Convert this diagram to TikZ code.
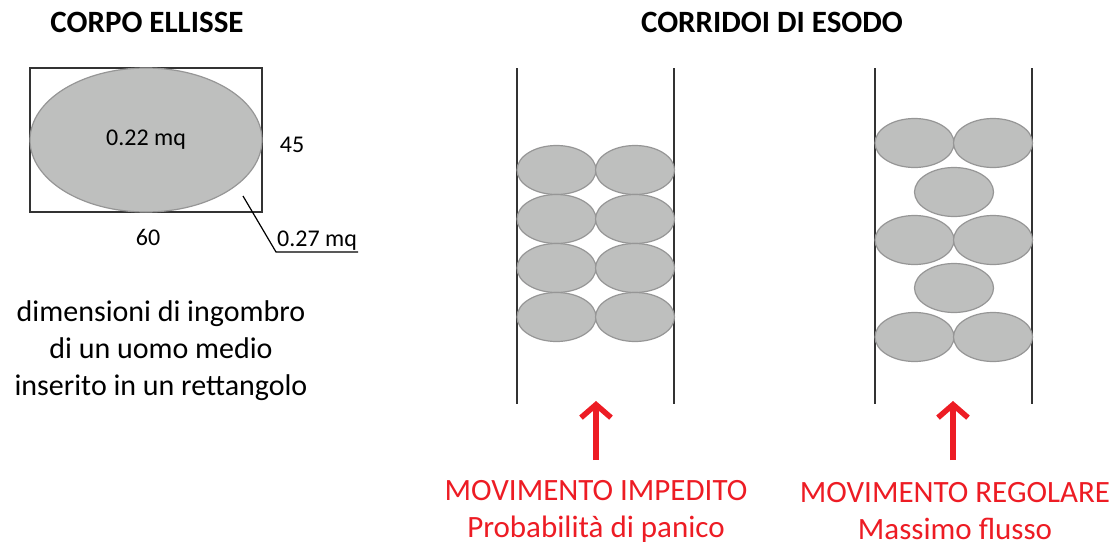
\documentclass[tikz,border=0pt]{standalone}
\usepackage{fontspec}
\setmainfont{Carlito}
\usetikzlibrary{shapes.geometric,arrows.meta}
\definecolor{grigio}{RGB}{190,191,190}
\definecolor{bordo}{RGB}{150,150,150}
\definecolor{rosso}{RGB}{237,28,36}
\tikzset{
	persona/.style={ellipse, draw=bordo, fill=grigio, line width=1.2pt, minimum width=79pt, minimum height=49pt, inner sep=0pt},
	parete/.style={line width=1.5pt, black!80},
	freccia/.style={rosso, line width=5.5pt, -{Straight Barb[length=13pt,width=30pt]}},
	titolo/.style={font=\bfseries\fontsize{31}{36}\selectfont},
	misura/.style={font=\fontsize{24}{28}\selectfont},
	didascalia/.style={font=\fontsize{30}{37}\selectfont, align=center},
}
\begin{document}
\begin{tikzpicture}[x=1pt, y=-1pt]
		\useasboundingbox (0,0) rectangle (1113,546);
		%titoli
		\node[titolo] (tit1) at (147,22) {CORPO ELLISSE};
		\node[titolo] (tit2) at (772,22) {CORRIDOI DI ESODO};
		
		%corpo ellisse
		\node[draw, black!80, line width=1.5pt, minimum width=232pt, minimum height=144pt] (rett) at (146,140) {};
		\node[persona, minimum width=232pt, minimum height=144pt, misura] (corpo) at (146,140) {0.22 mq};
		\node[misura] (alt) at (292,145) {45};
		\node[misura] (largh) at (148,237) {60};
		\node[misura, anchor=south west, inner sep=1pt] (area) at (276,252) {0.27 mq};
		\coordinate (punta) at (243,196);
		\draw[line width=1.2pt] (punta) -- (area.south west) -- (area.south east);
		\node[didascalia] (descr) at (161,351) {dimensioni di ingombro\\di un uomo medio\\inserito in un rettangolo};
		
		%corridoi
		\foreach \x in {517, 674, 875, 1032}{
			\draw[parete] (\x,68) -- (\x,404);
		}
		\foreach \r [count=\i] in {170,219,268,317}{
			\node[persona] (a\i) at (556.5,\r) {};
			\node[persona] (b\i) at (635,\r) {};
		}
		\foreach \r [count=\i] in {143,240,337}{
			\node[persona] (c\i) at (914.5,\r) {};
			\node[persona] (d\i) at (993,\r) {};
		}
		\foreach \r [count=\i] in {192,288}{
			\node[persona] (e\i) at (954,\r) {};
		}
		
		%frecce e didascalie
		\coordinate (base1) at (596,460);
		\coordinate (cima1) at (596,401);
		\coordinate (base2) at (953,460);
		\coordinate (cima2) at (953,401);
		\draw[freccia] (base1) -- (cima1);
		\draw[freccia] (base2) -- (cima2);
		\node[didascalia, text=rosso, font=\fontsize{31}{37}\selectfont] (mov1) at (596,511) {MOVIMENTO IMPEDITO\\Probabilità di panico};
		\node[didascalia, text=rosso, font=\fontsize{31}{37}\selectfont] (mov2) at (955,511) {MOVIMENTO REGOLARE\\Massimo flusso};
\end{tikzpicture}
\end{document}
